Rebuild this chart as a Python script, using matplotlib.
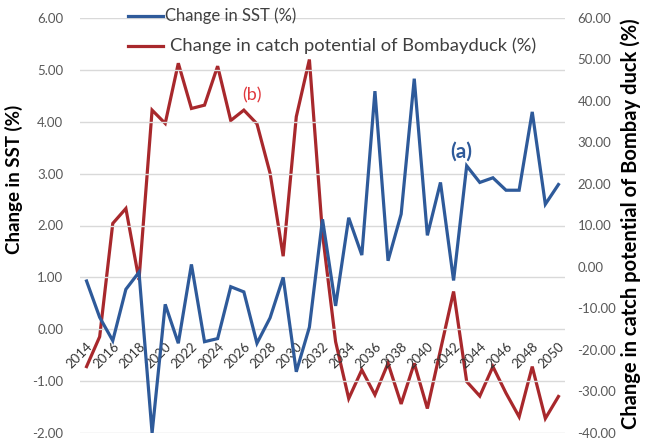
import matplotlib
matplotlib.use("Agg")
import matplotlib.pyplot as plt
from matplotlib.lines import Line2D

years = list(range(2014, 2051))
sst_change = [0.93, 0.23, -0.22, 0.77, 1.10, -2.00, 0.48, -0.27, 1.25, -0.24,
              -0.18, 0.82, 0.72, -0.27, 0.22, 1.00, -0.82, 0.04, 2.12, 0.45,
              2.15, 1.43, 4.59, 1.32, 2.22, 4.83, 1.81, 2.83, 0.94, 3.15,
              2.83, 2.92, 2.68, 2.68, 4.19, 2.41, 2.79]
catch_change = [-24.0, -16.8, 10.5, 14.1, -3.1, 37.8, 34.6, 49.1, 38.2, 39.0,
                48.4, 35.3, 37.8, 34.5, 22.6, 2.6, 36.2, 50.0, 8.0, -18.0,
                -31.7, -24.8, -30.8, -23.2, -33.0, -23.2, -34.1, -20.0, -5.9, -27.6,
                -31.1, -24.0, -30.4, -36.1, -24.0, -36.5, -31.2]
tick_years = list(range(2014, 2051, 2))
left_ticks = [-2, -1, 0, 1, 2, 3, 4, 5, 6]
right_ticks = [-40, -30, -20, -10, 0, 10, 20, 30, 40, 50, 60]
legend_labels = ["Change in SST (%)", "Change in catch potential of Bombayduck (%)"]

FONT = "Lato"
BLUE = "#2E5A9A"
RED = "#A8282C"
GRID = "#D9D9D9"
TICKC = "#595959"

W, H = 652, 442
fig = plt.figure(figsize=(W / 100, H / 100), dpi=100)
ax = fig.add_axes([80 / W, 1 - 433 / H, (565 - 80) / W, (433 - 18) / H])
ax2 = ax.twinx()

ax.plot(years, sst_change, color=BLUE, lw=2.3, zorder=3, solid_joinstyle="miter")
ax2.plot(years, catch_change, color=RED, lw=2.3, zorder=3, solid_joinstyle="miter")

ax.set_xlim(2013.5, 2050.5)
ax.set_ylim(-2, 6)
ax2.set_ylim(-40, 60)

for a in (ax, ax2):
    for s in a.spines.values():
        s.set_visible(False)
    a.tick_params(length=0)
ax.tick_params(axis="y", pad=12)
ax2.tick_params(axis="y", pad=9)
ax.tick_params(axis="x", pad=8)
ax.spines["bottom"].set_position(("data", 0))

ax.set_yticks(left_ticks)
ax.set_yticklabels([f"{v:.2f}" for v in left_ticks], fontfamily=FONT, fontsize=9.5, color=TICKC)
ax2.set_yticks(right_ticks)
ax2.set_yticklabels([f"{v:.2f}" for v in right_ticks], fontfamily=FONT, fontsize=9.5, color=TICKC)

ax.set_xticks(tick_years)
ax.set_xticklabels([str(y) for y in tick_years], fontfamily=FONT, fontsize=9.5, color="#333333")
for lab in ax.get_xticklabels():
    lab.set_rotation(45)
    lab.set_ha("right")
    lab.set_va("top")
    lab.set_rotation_mode("anchor")

ax.grid(axis="y", color=GRID, lw=1.0, zorder=0)
ax.set_axisbelow(True)
ax.set_zorder(ax2.get_zorder() + 1)
ax.patch.set_visible(False)

ax.set_ylabel("Change in SST (%)", fontfamily=FONT, fontsize=13.5, fontweight="bold", color="black")
ax.yaxis.set_label_coords(-0.117, 0.61)
ax2.set_ylabel("Change in catch potential of Bombay duck (%)", fontfamily=FONT, fontsize=14.5,
               fontweight="bold", color="black", rotation=90)
ax2.yaxis.set_label_coords(1.115, 0.505)

# legend drawn manually to match the reference row sizes
for i, (col, lab, fs, tx) in enumerate([(BLUE, legend_labels[0], 12, 165),
                                        (RED, legend_labels[1], 13.2, 170)]):
    yy = 1 - (16 + 30 * i) / H
    fig.add_artist(Line2D([128 / W, 163 / W], [yy, yy], color=col, lw=2.3,
                          transform=fig.transFigure))
    fig.text(tx / W, yy, lab, fontfamily=FONT, fontsize=fs, color="#404040",
             ha="left", va="center")

ax.text(2026.6, 4.5, "(b)", color="#E0393E", fontfamily=FONT, fontsize=13, ha="center", va="center")
ax2.text(2042.55, 27.7, "(a)", color=BLUE, fontfamily=FONT, fontsize=15, fontweight="bold",
         ha="center", va="center")

fig.savefig("out.png", dpi=100, facecolor="white")
